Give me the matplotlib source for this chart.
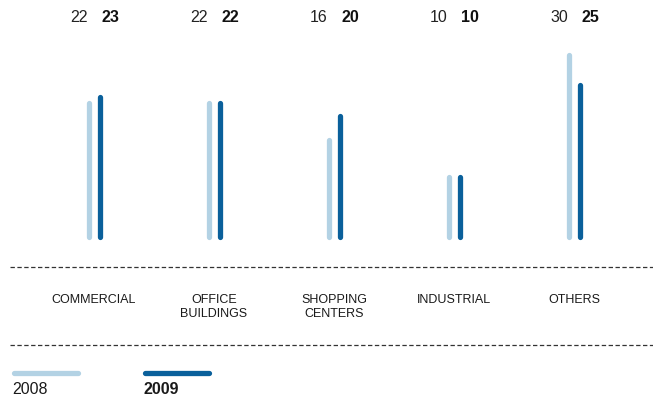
import matplotlib
matplotlib.use('Agg')
import matplotlib.pyplot as plt
from matplotlib.lines import Line2D

plt.rcParams['font.family'] = ['Liberation Sans', 'DejaVu Sans']

categories = ['COMMERCIAL', 'OFFICE\nBUILDINGS', 'SHOPPING\nCENTERS', 'INDUSTRIAL', 'OTHERS']
vals_2008 = [22, 22, 16, 10, 30]
vals_2009 = [23, 22, 20, 10, 25]
years = ['2008', '2009']

c_2008 = '#b3d2e4'
c_2009 = '#0a609b'
W, H = 653, 396

fig = plt.figure(figsize=(W / 100, H / 100), dpi=100)

# bar area: top of figure down to the bar base
ax = fig.add_axes([0, 1 - 237.5 / H, 1, 237.5 / H])
ax.set_xlim(-94 / 120, (W - 94) / 120)
ax.set_ylim(0, 237.5 / 6.1)
ax.axis('off')

off = 11 / 120 / 2
for i in range(len(categories)):
    for x, v, c in [(i - off, vals_2008[i], c_2008), (i + off, vals_2009[i], c_2009)]:
        ln = Line2D([x, x], [0, v], color=c, lw=3.8, solid_capstyle='round', clip_on=False)
        ax.add_line(ln)
    ax.text(i - 0.125, 1 - 18 / 237.5, str(vals_2008[i]), transform=ax.get_xaxis_transform(),
            ha='center', va='center', fontsize=11.5, color='#222222')
    ax.text(i + 0.135, 1 - 18 / 237.5, str(vals_2009[i]), transform=ax.get_xaxis_transform(),
            ha='center', va='center', fontsize=11.5, color='#111111', fontweight='bold')

# category labels below the first dashed rule
for i, cat in enumerate(categories):
    xf = (94 + 120 * i) / W
    fig.text(xf, 1 - 294 / H, cat, ha='center', va='top', fontsize=9,
             color='#1a1a1a', linespacing=1.2)

# dashed rules
for yp in [267, 345]:
    fig.add_artist(Line2D([10 / W, 1], [1 - yp / H] * 2, transform=fig.transFigure,
                          color='#333333', lw=0.9, ls=(0, (3.5, 2))))

# legend
for j, (yr, c) in enumerate(zip(years, [c_2008, c_2009])):
    x0 = 14 + 131 * j
    fig.add_artist(Line2D([x0 / W, (x0 + 64) / W], [1 - 373 / H] * 2, transform=fig.transFigure,
                          color=c, lw=3.8, solid_capstyle='round'))
    fig.text((x0 - 2) / W, 1 - 389 / H, yr, ha='left', va='center', fontsize=11.5,
             color='#1a1a1a', fontweight='bold' if j == 1 else 'normal')

fig.savefig('out.png', dpi=100)
